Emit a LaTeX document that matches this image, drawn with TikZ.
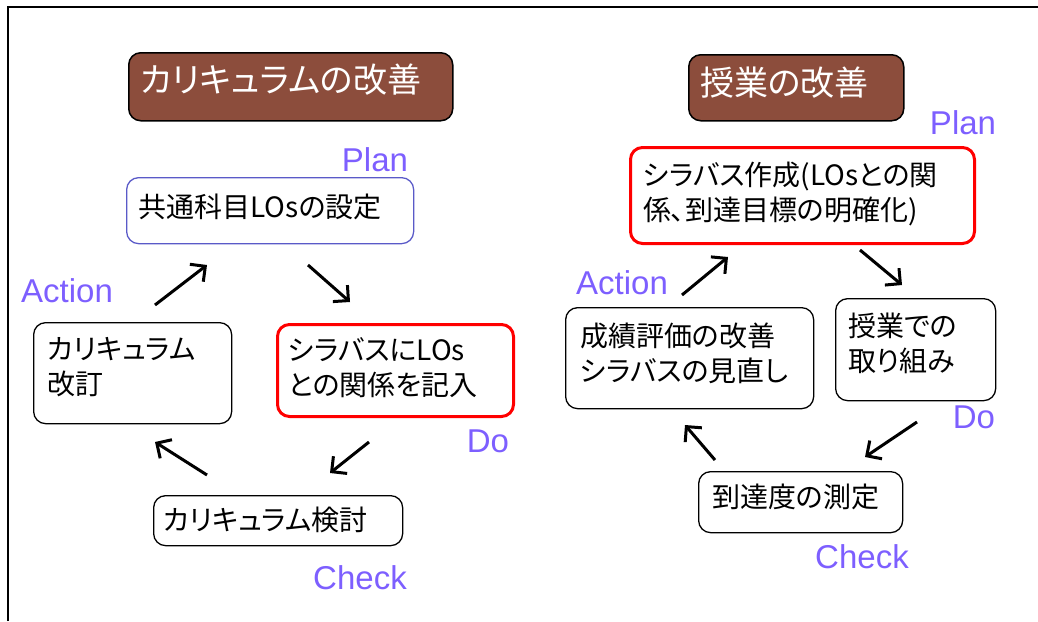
\documentclass[tikz,border=0pt]{standalone}
\usepackage{fontspec}
\usetikzlibrary{arrows.meta}
\newfontfamily\jpfont[RawFeature={+palt}]{Noto Sans CJK JP}
\newfontfamily\labfont{Liberation Sans}
\definecolor{titlebrown}{RGB}{140,77,60}
\definecolor{labblue}{RGB}{125,95,255}
\definecolor{planblue}{RGB}{90,90,200}
\begin{document}
\begin{tikzpicture}[x=1pt,y=-1pt,
  box/.style={draw=black,line width=1.3pt,rounded corners=12pt,anchor=north west,inner sep=0pt},
  redbox/.style={box,draw=red,line width=3pt},
  bluebox/.style={box,draw=planblue,line width=1.3pt},
  titlebox/.style={box,fill=titlebrown,line width=1.5pt},
  titletext/.style={anchor=west,inner sep=0pt,text=white,font=\jpfont\fontsize{34}{38}\selectfont},
  boxtext/.style={anchor=west,inner sep=0pt,align=left,font=\jpfont\fontsize{28}{35}\selectfont},
  phase/.style={inner sep=0pt,text=labblue,font=\labfont\fontsize{33}{38}\selectfont},
  cyc/.style={line width=3pt,-{Straight Barb[length=11pt,width=22pt]}}]
\useasboundingbox (0,0) rectangle (1038,621);
\draw[line width=2pt] (8,621) -- (8,7) -- (1038,7);
% left cycle
\node[titlebox,minimum width=324pt,minimum height=68pt] (t1) at (128,52) {};
\node[titletext] (t1txt) at (140,80) {カリキュラムの改善};
\node[bluebox,minimum width=287pt,minimum height=66pt] (p1) at (126,177) {};
\node[boxtext] (p1txt) at (138,207) {共通科目LOsの設定};
\node[box,minimum width=198pt,minimum height=101pt] (a1) at (33,322) {};
\node[boxtext] (a1txt) at (47,367.5) {カリキュラム\\改訂};
\node[redbox,minimum width=236pt,minimum height=92pt] (d1) at (276,323) {};
\node[boxtext] (d1txt) at (288,367.5) {シラバスにLOs\\との関係を記入};
\node[box,minimum width=249pt,minimum height=50pt] (c1) at (153,495) {};
\node[boxtext] (c1txt) at (163,520) {カリキュラム検討};
\node[phase] (plan1) at (375,160) {Plan};
\node[phase] (act1) at (67,291) {Action};
\node[phase] (do1) at (488,441) {Do};
\node[phase] (chk1) at (360,578) {Check};
\coordinate (l1s) at (155,305); \coordinate (l1e) at (207,265);
\coordinate (l2s) at (308,265); \coordinate (l2e) at (350,302);
\coordinate (l3s) at (369,442); \coordinate (l3e) at (330,473);
\coordinate (l4s) at (207,475); \coordinate (l4e) at (155,442);
\draw[cyc] (l1s) -- (l1e);
\draw[cyc] (l2s) -- (l2e);
\draw[cyc] (l3s) -- (l3e);
\draw[cyc] (l4s) -- (l4e);
% right cycle
\node[titlebox,minimum width=215pt,minimum height=66pt] (t2) at (688,54) {};
\node[titletext] (t2txt) at (700,83) {授業の改善};
\node[redbox,minimum width=344pt,minimum height=96pt] (p2) at (629,146) {};
\node[boxtext] (p2txt) at (643,194) {シラバス作成(LOsとの関\\係、到達目標の明確化)};
\node[box,minimum width=248pt,minimum height=101pt] (a2) at (565,307) {};
\node[boxtext] (a2txt) at (580,353.5) {成績評価の改善\\シラバスの見直し};
\node[box,minimum width=160pt,minimum height=102pt] (d2) at (835,298) {};
\node[boxtext] (d2txt) at (848,343.5) {授業での\\取り組み};
\node[box,minimum width=204pt,minimum height=61pt] (c2) at (698,471) {};
\node[boxtext] (c2txt) at (712,497) {到達度の測定};
\node[phase] (plan2) at (963,123) {Plan};
\node[phase] (act2) at (622,283) {Action};
\node[phase] (do2) at (974,417) {Do};
\node[phase] (chk2) at (862,557) {Check};
\coordinate (r1s) at (682,295); \coordinate (r1e) at (728,257);
\coordinate (r2s) at (860,250); \coordinate (r2e) at (902,285);
\coordinate (r3s) at (917,422); \coordinate (r3e) at (865,457);
\coordinate (r4s) at (715,460); \coordinate (r4e) at (685,425);
\draw[cyc] (r1s) -- (r1e);
\draw[cyc] (r2s) -- (r2e);
\draw[cyc] (r3s) -- (r3e);
\draw[cyc] (r4s) -- (r4e);
\end{tikzpicture}
\end{document}
